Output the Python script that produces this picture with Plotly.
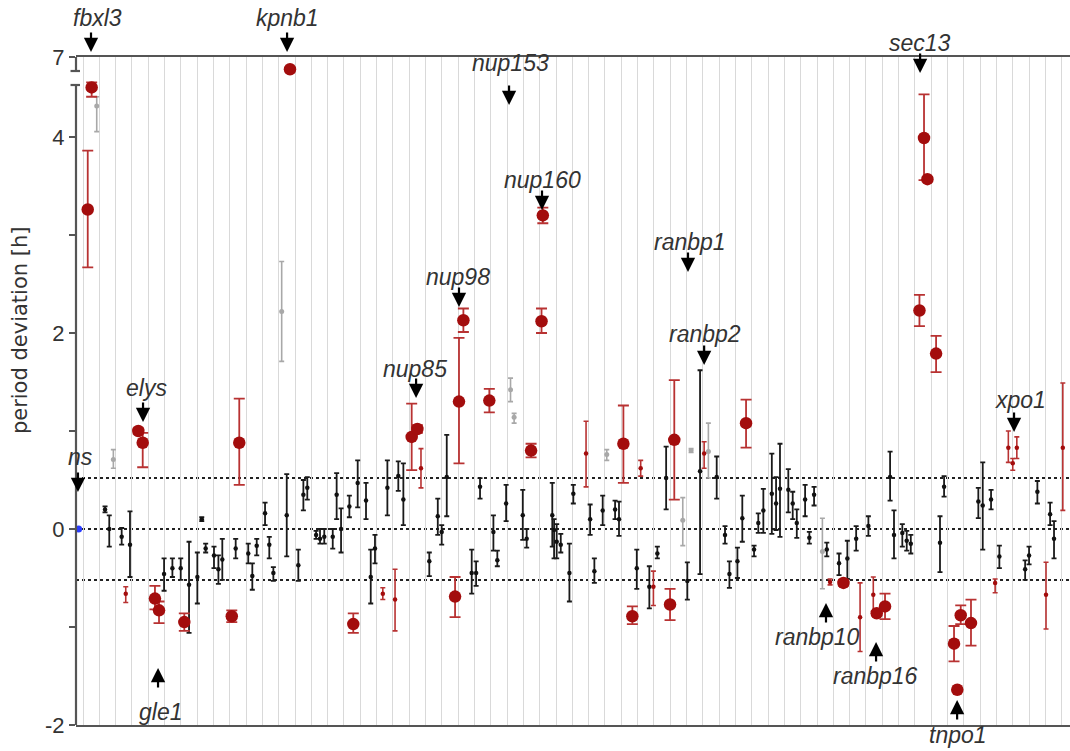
import numpy as np
import plotly.graph_objects as go

# ---------------- data (period deviation in hours) ----------------
# x = position of the siRNA along the screen (gene columns are 1 unit wide)
black_pos = [1.35, 1.61, 2.37, 2.88, 4.97, 5.48, 5.99, 6.50, 7.01, 7.28, 7.52, 8.03, 8.30, 8.54,
             9.36, 10.13, 10.38, 10.65, 11.16, 11.42, 11.67, 12.49, 13.20, 13.51, 13.75, 14.29,
             14.53, 14.79, 15.31, 15.55, 15.82, 16.33, 16.84, 17.35, 17.64, 17.90, 18.66, 19.33,
             19.64, 21.23, 21.75, 21.99, 22.30, 23.83, 24.10, 24.34, 25.16, 25.40, 25.94, 26.96,
             27.20, 28.77, 28.88, 29.04, 29.29, 29.82, 30.06, 31.09, 31.35, 31.86, 32.62, 32.86,
             33.95, 34.72, 35.21, 35.75, 37.05, 37.83, 38.85, 39.36, 39.63, 40.12, 40.42, 41.14,
             41.40, 41.71, 42.23, 42.49, 42.73, 43.24, 43.51, 43.76, 44.27, 44.53, 44.82, 45.60,
             46.35, 46.86, 47.40, 48.15, 49.48, 49.72, 50.23, 50.50, 50.75, 52.54, 52.79, 54.89,
             55.16, 55.67, 56.18, 57.76, 58.00, 58.51, 59.29, 59.53]
black_mean = [0.20, 0.00, -0.08, -0.16, -0.46, -0.40, -0.40, -0.57, -0.49, 0.10, -0.20, -0.27, -0.41, -0.31,
              -0.20, -0.25, -0.48, -0.17, 0.16, -0.16, -0.45, 0.14, -0.37, 0.35, 0.42, -0.06,
              -0.10, -0.08, -0.08, 0.35, 0.00, 0.23, 0.47, 0.29, -0.49, -0.20, 0.42, 0.54,
              0.30, -0.33, 0.13, -0.03, 0.53, -0.45, -0.45, 0.43, -0.03, -0.32, 0.26, 0.14,
              -0.10, 0.14, -0.01, -0.13, -0.16, -0.45, 0.36, 0.10, -0.43, 0.19, 0.20, 0.10,
              -0.40, -0.59, -0.25, 0.52, -0.53, 0.59, 0.53, -0.06, -0.46, -0.33, 0.11, -0.21,
              0.06, 0.19, 0.36, 0.26, 0.41, 0.40, 0.26, 0.06, 0.30, -0.09, 0.35, -0.21,
              -0.35, -0.30, -0.10, 0.03, 0.53, -0.06, -0.04, -0.12, -0.15, -0.14, 0.43, 0.28,
              0.24, 0.30, -0.28, -0.41, -0.27, 0.38, 0.15, -0.10]
black_lo = [0.17, -0.18, -0.16, -0.49, -0.63, -0.49, -0.52, -1.06, -0.76, 0.08, -0.24, -0.40, -0.56, -0.52,
            -0.30, -0.35, -0.62, -0.27, 0.04, -0.30, -0.53, -0.28, -0.53, 0.19, 0.30, -0.10,
            -0.15, -0.15, -0.20, 0.10, -0.24, 0.12, 0.22, 0.10, -0.76, -0.35, 0.14, 0.39,
            0.04, -0.48, -0.06, -0.16, 0.13, -0.66, -0.58, 0.31, -0.22, -0.38, 0.08, -0.11,
            -0.19, -0.18, -0.30, -0.30, -0.24, -0.74, 0.26, -0.06, -0.55, 0.04, 0.10, -0.07,
            -0.61, -0.81, -0.30, 0.20, -0.72, -0.46, 0.31, -0.15, -0.60, -0.50, -0.13, -0.28,
            -0.04, -0.04, -0.05, -0.01, -0.08, 0.17, 0.10, -0.09, 0.13, -0.15, 0.24, -0.28,
            -0.47, -0.51, -0.22, -0.07, 0.29, -0.30, -0.18, -0.22, -0.25, -0.44, 0.33, 0.11,
            -0.21, 0.20, -0.40, -0.52, -0.36, 0.26, 0.04, -0.30]
black_hi = [0.23, 0.14, 0.01, 0.18, -0.30, -0.30, -0.30, -0.13, -0.24, 0.12, -0.15, -0.18, -0.27, -0.10,
            -0.10, -0.15, -0.35, -0.10, 0.27, -0.08, -0.39, 0.56, -0.21, 0.50, 0.53, -0.02,
            0.00, 0.00, 0.00, 0.57, 0.21, 0.34, 0.70, 0.47, -0.21, -0.06, 0.70, 0.69,
            0.67, -0.24, 0.31, 0.04, 0.96, -0.21, -0.33, 0.52, 0.14, -0.22, 0.45, 0.40,
            0.00, 0.47, 0.10, 0.05, -0.05, -0.15, 0.45, 0.25, -0.30, 0.34, 0.29, 0.28,
            -0.21, -0.38, -0.18, 0.84, -0.34, 1.62, 0.74, 0.03, -0.33, -0.19, 0.34, -0.17,
            0.16, 0.41, 0.77, 0.53, 0.87, 0.61, 0.38, 0.20, 0.45, -0.03, 0.43, -0.14,
            -0.25, -0.12, 0.03, 0.13, 0.79, 0.19, 0.05, -0.02, -0.06, 0.13, 0.54, 0.42,
            0.68, 0.40, -0.17, -0.32, -0.18, 0.49, 0.27, 0.08]

gray_pos = [0.84, 1.86, 12.18, 26.21, 26.43, 32.11, 36.77, 37.28, 38.34, 45.33]
gray_mean = [5.16, 0.71, 2.22, 1.42, 1.14, 0.76, 0.09, 0.80, 0.79, -0.23]
gray_lo = [4.20, 0.62, 1.71, 1.30, 1.08, 0.70, -0.17, 0.78, 0.52, -0.61]
gray_hi = [5.51, 0.81, 2.73, 1.54, 1.18, 0.81, 0.32, 0.82, 1.08, 0.11]

hit_pos = [0.29, 0.53, 3.39, 3.66, 4.41, 4.66, 6.21, 9.12, 9.58, 12.69, 16.57, 20.15, 20.50,
           22.81, 23.05, 23.32, 24.91, 27.47, 28.11, 28.19, 33.13, 33.68, 35.99, 36.25, 40.65,
           46.62, 48.66, 49.17, 51.28, 51.56, 51.77, 52.30, 53.40, 53.60, 53.81, 54.44]
hit_mean = [3.26, 5.86, 1.00, 0.88, -0.71, -0.83, -0.95, -0.89, 0.88, 6.54, -0.97, 0.94, 1.02,
            -0.69, 1.30, 2.13, 1.31, 0.80, 2.12, 3.20, 0.87, -0.89, -0.77, 0.91, 1.08,
            -0.55, -0.86, -0.79, 2.23, 3.99, 3.57, 1.79, -1.17, -1.64, -0.88, -0.96]
hit_lo = [2.67, 5.51, 0.97, 0.63, -0.82, -0.96, -1.04, -0.95, 0.45, 6.54, -1.06, 0.60, 0.98,
          -0.90, 0.67, 2.01, 1.19, 0.73, 2.00, 3.12, 0.47, -0.97, -0.93, 0.30, 0.83,
          -0.58, -0.88, -0.92, 2.07, 3.56, 3.55, 1.60, -1.35, -1.64, -0.97, -1.19]
hit_hi = [3.86, 6.05, 1.03, 0.98, -0.58, -0.74, -0.86, -0.83, 1.33, 6.54, -0.86, 1.28, 1.06,
          -0.49, 1.95, 2.25, 1.43, 0.87, 2.25, 3.28, 1.26, -0.79, -0.61, 1.52, 1.32,
          -0.52, -0.84, -0.66, 2.39, 5.60, 3.59, 1.97, -0.99, -1.64, -0.78, -0.72]

red_pos = [2.62, 18.38, 19.13, 20.72, 30.84, 34.19, 34.97, 38.08, 45.80, 47.64, 48.45,
           55.92, 56.73, 57.00, 57.25, 59.04, 60.07]
red_mean = [-0.66, -0.66, -0.72, 0.62, 0.77, 0.62, -0.59, 0.77, -0.54, -0.90, -0.67,
            -0.55, 0.83, 0.67, 0.83, -0.67, 0.83]
red_lo = [-0.75, -0.72, -1.04, 0.42, 0.43, 0.54, -0.78, 0.62, -0.57, -1.25, -0.84,
          -0.65, 0.68, 0.60, 0.72, -1.02, 0.19]
red_hi = [-0.59, -0.60, -0.41, 0.82, 1.10, 0.70, -0.43, 0.89, -0.51, -0.55, -0.49,
          -0.51, 1.00, 0.72, 0.94, -0.34, 1.49]

control_pos = [-0.27]
control_mean = [0.0]

threshold = 0.52

# labelled genes: name, column position, arrow tip (axis units), direction
label_names = ["fbxl3", "kpnb1", "nup153", "sec13", "nup160", "ranbp1", "nup98", "ranbp2",
               "nup85", "elys", "xpo1", "ns", "gle1", "ranbp10", "ranbp16", "tnpo1"]
label_text_x = [0.86, 12.51, 26.18, 51.32, 28.20, 37.22, 22.99, 38.14, 20.36, 3.92, 57.45,
                -0.18, 4.72, 45.00, 48.56, 53.65]
label_text_y = [5.21, 5.21, 4.755, 4.96, 3.56, 2.93, 2.57, 1.99, 1.633, 1.44, 1.316,
                0.735, -1.867, -1.102, -1.50, -2.10]
arrow_x = [0.49, 12.51, 26.12, 51.32, 28.14, 37.09, 23.05, 38.08, 20.42, 3.68, 57.08,
           -0.31, 4.60, 45.55, 48.62, 53.59]
arrow_tip = [4.867, 4.867, 4.327, 4.653, 3.255, 2.622, 2.265, 1.673, 1.337, 1.092, 0.99,
             0.378, -1.418, -0.755, -1.153, -1.745]
arrow_dir = ["down"] * 12 + ["up"] * 4

y_tick_values = [-2, -1, 0, 1, 2, 3, 4, 7]
y_tick_text = ["-2", "", "0", "", "2", "", "4", "7"]

# ---------------- broken y axis: values above 4 h are compressed ----------------
BREAK = 4.0
SQUEEZE = (80.0 / 3.0) / 98.0


def disp(v):
    v = np.asarray(v, dtype=float)
    return np.where(v <= BREAK, v, BREAK + (v - BREAK) * SQUEEZE)


Y_MIN = -2.0
Y_TOP = float(disp(7))


def to_paper(d):
    return (d - Y_MIN) / (Y_TOP - Y_MIN)


def err(mean, lo, hi):
    m, l, h = disp(mean), disp(lo), disp(hi)
    return m, h - m, m - l


RED = "#a30d0d"
RED_BAR = "#b83232"
GRAY = "#a8a8a8"
BLACK = "#111111"

fig = go.Figure()


def add_group(pos, mean, lo, hi, color, bar_color, size, cap, thick):
    m, up, dn = err(mean, lo, hi)
    fig.add_trace(go.Scatter(
        x=pos, y=m, mode="markers",
        marker=dict(color=color, size=size, line=dict(width=0)),
        error_y=dict(type="data", symmetric=False, array=up, arrayminus=dn,
                     color=bar_color, thickness=thick, width=cap),
        showlegend=False, hoverinfo="skip", cliponaxis=False))


add_group(gray_pos, gray_mean, gray_lo, gray_hi, GRAY, GRAY, 5, 2.5, 1.6)
add_group(black_pos, black_mean, black_lo, black_hi, BLACK, "#1a1a1a", 4.5, 2.5, 1.8)
add_group(red_pos, red_mean, red_lo, red_hi, RED, RED_BAR, 4.5, 2.5, 1.6)
add_group(hit_pos, hit_mean, hit_lo, hit_hi, RED, RED_BAR, 12.5, 5.5, 1.8)

fig.add_trace(go.Scatter(x=control_pos, y=control_mean, mode="markers",
                         marker=dict(color="#2a3cff", size=7, symbol="circle"),
                         showlegend=False, hoverinfo="skip", cliponaxis=False))

shapes = []
for yv in (threshold, 0.0, -threshold):
    shapes.append(dict(type="line", xref="paper", yref="y", x0=0, x1=1, y0=yv, y1=yv,
                       line=dict(color="#222222", width=2, dash="dot"), layer="below"))

AX = "#555555"
seg_low_top = -2 + (725 - 85) / 98.0
seg_up_bot = -2 + (725 - 71) / 98.0
shapes += [
    dict(type="line", xref="paper", yref="y", x0=0, x1=0, y0=-2, y1=seg_low_top,
         line=dict(color=AX, width=2.2)),
    dict(type="line", xref="paper", yref="y", x0=0, x1=0, y0=seg_up_bot, y1=Y_TOP,
         line=dict(color=AX, width=2.2)),
    dict(type="line", xref="paper", yref="y", x0=-0.0055, x1=0.004, y0=seg_low_top, y1=seg_low_top,
         line=dict(color=AX, width=2.2)),
    dict(type="line", xref="paper", yref="y", x0=-0.0055, x1=0.004, y0=seg_up_bot, y1=seg_up_bot,
         line=dict(color=AX, width=2.2)),
]

annotations = []
LABEL_FONT = dict(family="Liberation Sans, Arial, sans-serif", size=23, color="#333333")
for name, tx, ty, axp, tip, d in zip(label_names, label_text_x, label_text_y, arrow_x, arrow_tip, arrow_dir):
    annotations.append(dict(x=tx, y=to_paper(ty), xref="x", yref="paper", text="<i>%s</i>" % name,
                            showarrow=False, font=LABEL_FONT, xanchor="center", yanchor="middle"))
    annotations.append(dict(x=axp, y=to_paper(tip), xref="x", yref="paper", text="", showarrow=True,
                            ax=0, ay=(-21 if d == "down" else 21), arrowhead=2, arrowsize=1.3,
                            arrowwidth=2.2, arrowcolor="#000000", standoff=0))

annotations.append(dict(x=-0.0563, y=to_paper(2.03), xref="paper", yref="paper",
                        text="period deviation [h]",
                        textangle=-90, showarrow=False, xanchor="center", yanchor="middle",
                        font=dict(family="DejaVu Sans, sans-serif", size=21, color="#333333")))

fig.update_layout(
    width=1070, height=751,
    margin=dict(l=76, r=0, t=57, b=26),
    paper_bgcolor="white", plot_bgcolor="white",
    shapes=shapes, annotations=annotations,
    xaxis=dict(range=[-0.43, 60.51], showticklabels=False, ticks="", tick0=0, dtick=1,
               showgrid=True, gridcolor="#d9d9d9", gridwidth=1, zeroline=False,
               showline=True, mirror=True, linecolor=AX, linewidth=2.2),
    yaxis=dict(range=[Y_MIN, Y_TOP], tickmode="array",
               tickvals=list(disp(y_tick_values)), ticktext=y_tick_text,
               ticks="outside", ticklen=6, tickwidth=2, tickcolor=AX,
               showgrid=False, zeroline=False, showline=False,
               tickfont=dict(family="Liberation Sans, Arial, sans-serif", size=22, color="#333333")),
)

fig.write_html("out.html")
